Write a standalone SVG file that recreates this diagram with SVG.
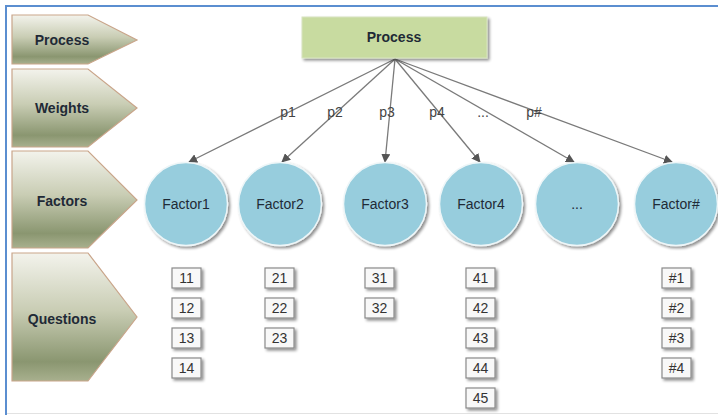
<svg xmlns="http://www.w3.org/2000/svg" width="718" height="415" viewBox="0 0 718 415">
  <defs>
    <linearGradient id="chev" x1="0" y1="0" x2="0" y2="1">
      <stop offset="0" stop-color="#f3f3ec"/>
      <stop offset="0.45" stop-color="#c9cdb4"/>
      <stop offset="0.85" stop-color="#8a9670"/>
      <stop offset="1" stop-color="#a8b08e"/>
    </linearGradient>
    <filter id="shadow" x="-20%" y="-20%" width="140%" height="150%">
      <feGaussianBlur in="SourceAlpha" stdDeviation="1.5"/>
      <feOffset dx="1.5" dy="2" result="b"/>
      <feComponentTransfer><feFuncA type="linear" slope="0.45"/></feComponentTransfer>
      <feMerge><feMergeNode/><feMergeNode in="SourceGraphic"/></feMerge>
    </filter>
    <marker id="arrow" viewBox="0 0 10 10" refX="9" refY="5" markerWidth="9" markerHeight="9" markerUnits="userSpaceOnUse" orient="auto">
      <path d="M0,0 L10,5 L0,10 z" fill="#555"/>
    </marker>
  </defs>
  <style>
    .chev { fill: url(#chev); stroke: #c9a58a; stroke-width: 1.2; }
    .chevtxt { font-family: "Liberation Sans", Arial, sans-serif; font-size: 14px; font-weight: bold; fill: #1f2a36; text-anchor: middle; }
    .proc { fill: #c8dba0; stroke: #d8e4c0; stroke-width: 1; }
    .circ { fill: #97cddd; stroke: #eef6f8; stroke-width: 1.5; }
    .ftxt { font-family: "Liberation Sans", Arial, sans-serif; font-size: 14px; fill: #1f2a36; text-anchor: middle; }
    .conn { stroke: #7a7a7a; stroke-width: 1.3; fill: none; }
    .plbl { font-family: "Liberation Sans", Arial, sans-serif; font-size: 14px; fill: #444; text-anchor: middle; }
    .qbox { fill: #f8f8f8; stroke: #8a8a8a; stroke-width: 1.2; }
    .qtxt { font-family: "Liberation Sans", Arial, sans-serif; font-size: 14px; fill: #333; text-anchor: middle; }
  </style>

  <rect x="0" y="0" width="718" height="415" fill="#ffffff"/>
  <!-- frame -->
  <line x1="5" y1="6" x2="718" y2="6" stroke="#5b8ed0" stroke-width="2"/>
  <line x1="6" y1="5" x2="6" y2="415" stroke="#5b8ed0" stroke-width="2"/>
  <line x1="7" y1="413.5" x2="718" y2="413.5" stroke="#e2e2e2" stroke-width="1"/>

  <!-- row headers -->
  <g id="row-process">
    <polygon class="chev" points="12,15 88,15 137,40 88,64 12,64"/>
    <text class="chevtxt" x="62" y="45">Process</text>
  </g>
  <g id="row-weights">
    <polygon class="chev" points="12,69 88,69 137,108 88,147 12,147"/>
    <text class="chevtxt" x="62" y="113">Weights</text>
  </g>
  <g id="row-factors">
    <polygon class="chev" points="12,151 88,151 137,200 88,248 12,248"/>
    <text class="chevtxt" x="62" y="206">Factors</text>
  </g>
  <g id="row-questions">
    <polygon class="chev" points="12,253 88,253 137,317 88,381 12,381"/>
    <text class="chevtxt" x="62" y="324">Questions</text>
  </g>

  <!-- connectors -->
  <g id="connectors">
    <line class="conn" x1="395" y1="59" x2="189" y2="162" marker-end="url(#arrow)"/>
    <line class="conn" x1="395" y1="59" x2="282" y2="162" marker-end="url(#arrow)"/>
    <line class="conn" x1="395" y1="59" x2="385" y2="162" marker-end="url(#arrow)"/>
    <line class="conn" x1="395" y1="59" x2="480" y2="162" marker-end="url(#arrow)"/>
    <line class="conn" x1="395" y1="59" x2="574" y2="162" marker-end="url(#arrow)"/>
    <line class="conn" x1="395" y1="59" x2="672" y2="162" marker-end="url(#arrow)"/>
    <text class="plbl" x="288" y="117">p1</text>
    <text class="plbl" x="335" y="117">p2</text>
    <text class="plbl" x="387" y="117">p3</text>
    <text class="plbl" x="437" y="117">p4</text>
    <text class="plbl" x="483" y="117" fill="#999">...</text>
    <text class="plbl" x="534" y="117">p#</text>
  </g>

  <!-- top process node -->
  <g id="process">
    <rect class="proc" x="302" y="17" width="185" height="41" filter="url(#shadow)"/>
    <text class="chevtxt" x="394" y="42">Process</text>
  </g>

  <!-- factor nodes -->
  <g id="factor1">
    <circle class="circ" cx="186" cy="204" r="41.5" filter="url(#shadow)"/>
    <text class="ftxt" x="186" y="209">Factor1</text>
  </g>
  <g id="factor2">
    <circle class="circ" cx="280" cy="204" r="41.5" filter="url(#shadow)"/>
    <text class="ftxt" x="280" y="209">Factor2</text>
  </g>
  <g id="factor3">
    <circle class="circ" cx="385" cy="204" r="41.5" filter="url(#shadow)"/>
    <text class="ftxt" x="385" y="209">Factor3</text>
  </g>
  <g id="factor4">
    <circle class="circ" cx="481" cy="204" r="41.5" filter="url(#shadow)"/>
    <text class="ftxt" x="481" y="209">Factor4</text>
  </g>
  <g id="factor-more">
    <circle class="circ" cx="577" cy="204" r="41.5" filter="url(#shadow)"/>
    <text class="ftxt" x="577" y="209" fill="#555">...</text>
  </g>
  <g id="factor-n">
    <circle class="circ" cx="676" cy="204" r="41.5" filter="url(#shadow)"/>
    <text class="ftxt" x="676" y="209">Factor#</text>
  </g>

  <!-- question boxes -->
  <g id="q11"><rect class="qbox" x="172" y="268" width="29" height="20" filter="url(#shadow)"/><text class="qtxt" x="186.5" y="283">11</text></g>
  <g id="q12"><rect class="qbox" x="172" y="298" width="29" height="20" filter="url(#shadow)"/><text class="qtxt" x="186.5" y="313">12</text></g>
  <g id="q13"><rect class="qbox" x="172" y="328" width="29" height="20" filter="url(#shadow)"/><text class="qtxt" x="186.5" y="343">13</text></g>
  <g id="q14"><rect class="qbox" x="172" y="358" width="29" height="20" filter="url(#shadow)"/><text class="qtxt" x="186.5" y="373">14</text></g>

  <g id="q21"><rect class="qbox" x="265" y="268" width="29" height="20" filter="url(#shadow)"/><text class="qtxt" x="279.5" y="283">21</text></g>
  <g id="q22"><rect class="qbox" x="265" y="298" width="29" height="20" filter="url(#shadow)"/><text class="qtxt" x="279.5" y="313">22</text></g>
  <g id="q23"><rect class="qbox" x="265" y="328" width="29" height="20" filter="url(#shadow)"/><text class="qtxt" x="279.5" y="343">23</text></g>

  <g id="q31"><rect class="qbox" x="365" y="268" width="29" height="20" filter="url(#shadow)"/><text class="qtxt" x="379.5" y="283">31</text></g>
  <g id="q32"><rect class="qbox" x="365" y="298" width="29" height="20" filter="url(#shadow)"/><text class="qtxt" x="379.5" y="313">32</text></g>

  <g id="q41"><rect class="qbox" x="466" y="268" width="29" height="20" filter="url(#shadow)"/><text class="qtxt" x="480.5" y="283">41</text></g>
  <g id="q42"><rect class="qbox" x="466" y="298" width="29" height="20" filter="url(#shadow)"/><text class="qtxt" x="480.5" y="313">42</text></g>
  <g id="q43"><rect class="qbox" x="466" y="328" width="29" height="20" filter="url(#shadow)"/><text class="qtxt" x="480.5" y="343">43</text></g>
  <g id="q44"><rect class="qbox" x="466" y="358" width="29" height="20" filter="url(#shadow)"/><text class="qtxt" x="480.5" y="373">44</text></g>
  <g id="q45"><rect class="qbox" x="466" y="388" width="29" height="20" filter="url(#shadow)"/><text class="qtxt" x="480.5" y="403">45</text></g>

  <g id="qn1"><rect class="qbox" x="662" y="268" width="29" height="20" filter="url(#shadow)"/><text class="qtxt" x="676.5" y="283">#1</text></g>
  <g id="qn2"><rect class="qbox" x="662" y="298" width="29" height="20" filter="url(#shadow)"/><text class="qtxt" x="676.5" y="313">#2</text></g>
  <g id="qn3"><rect class="qbox" x="662" y="328" width="29" height="20" filter="url(#shadow)"/><text class="qtxt" x="676.5" y="343">#3</text></g>
  <g id="qn4"><rect class="qbox" x="662" y="358" width="29" height="20" filter="url(#shadow)"/><text class="qtxt" x="676.5" y="373">#4</text></g>
</svg>
